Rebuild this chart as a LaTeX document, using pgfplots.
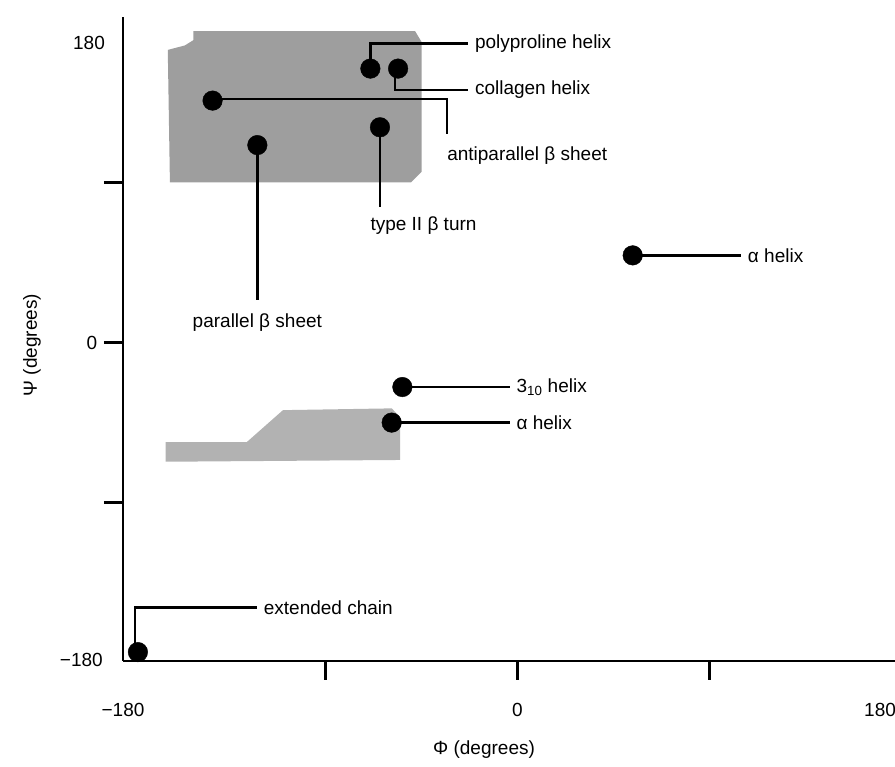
\documentclass[border=0pt]{standalone}
\usepackage{fontspec}
\setmainfont{Liberation Sans}
\usepackage{pgfplots}
\pgfplotsset{compat=1.18}
\begin{document}
\fontsize{19}{22}\selectfont
\begin{tikzpicture}
\begin{axis}[
  scale only axis, width=772pt, height=644pt,
  xmin=-185, xmax=177, ymin=-179, ymax=183,
  axis x line*=bottom, axis y line*=left,
  axis line style={-, line width=2.5pt, black},
  xtick={-90,0,90}, ytick={-90,0,90},
  xticklabels={}, yticklabels={},
  tick align=outside, major tick length=19pt,
  tick style={line width=2.5pt, black},
  clip=false,
]
\coordinate (O) at (rel axis cs:0,0);
% shaded regions
\addplot[draw=none, fill=black!38] coordinates {(-152,175) (-48,175) (-45,169) (-45,96) (-50,90) (-163,90) (-164,164.5) (-156,167) (-152,170)} -- cycle;
\addplot[draw=none, fill=black!30] coordinates {(-165,-56) (-127,-56) (-110,-38) (-59,-37) (-55,-42) (-55,-66) (-165,-67)} -- cycle;
% leader lines
\addplot[black, line width=2.5pt] coordinates {(-69,154) (-69,168) (-23,168)};
\addplot[black, line width=2.5pt] coordinates {(-57.5,154) (-57.5,142) (-23,142)};
\addplot[black, line width=2.5pt] coordinates {(-143,137) (-33,137) (-33,117)};
\addplot[black, line width=2.5pt] coordinates {(-64.5,121) (-64.5,76)};
\addplot[black, line width=2.5pt] coordinates {(-122,111) (-122,24)};
\addplot[black, line width=2.5pt] coordinates {(54,49) (105,49)};
\addplot[black, line width=2.5pt] coordinates {(-54,-25) (-3.5,-25)};
\addplot[black, line width=2.5pt] coordinates {(-59,-45) (-3.5,-45)};
\addplot[black, line width=2.5pt] coordinates {(-179.4,-174) (-179.4,-149) (-122,-149)};
% points
\addplot[only marks, mark=*, mark size=9.8pt, black] coordinates {
 (-69,154) (-56,154) (-143,136) (-122,111) (-64.5,121) (54,49) (-54,-25) (-59,-45) (-178,-174)};
% labels
\node[anchor=west] at (axis cs:-23,168) {polyproline helix};
\node[anchor=west] at (axis cs:-23,142) {collagen helix};
\node[anchor=west] at (axis cs:-36,105) {antiparallel β sheet};
\node[anchor=west] at (axis cs:-72,66) {type II β turn};
\node at (axis cs:-122,11) {parallel β sheet};
\node[anchor=west] at (axis cs:105,49) {α helix};
\node[anchor=west] at (axis cs:-3.5,-25) {3\textsubscript{10} helix};
\node[anchor=west] at (axis cs:-3.5,-45) {α helix};
\node[anchor=west] at (axis cs:-122,-149) {extended chain};
% tick labels
\node[anchor=east, inner sep=0pt] at (axis cs:-193.4,168.4) {180};
\node[anchor=east, inner sep=0pt] at (axis cs:-197,0) {0};
\node[anchor=east, inner sep=0pt] at (axis cs:-194.4,-178.4) {−180};
\node at (axis cs:-185,-206.5) {−180};
\node at (axis cs:0,-206.5) {0};
\node at (axis cs:170,-206.5) {180};
% axis titles
\node at (axis cs:-15.7,-229) {Φ (degrees)};
\node[rotate=90] at (axis cs:-227.7,-1.4) {Ψ (degrees)};
\end{axis}
\pgfresetboundingbox
\path (O) ++(-123pt,-106pt) rectangle ++(895pt,767pt);
\end{tikzpicture}
\end{document}
